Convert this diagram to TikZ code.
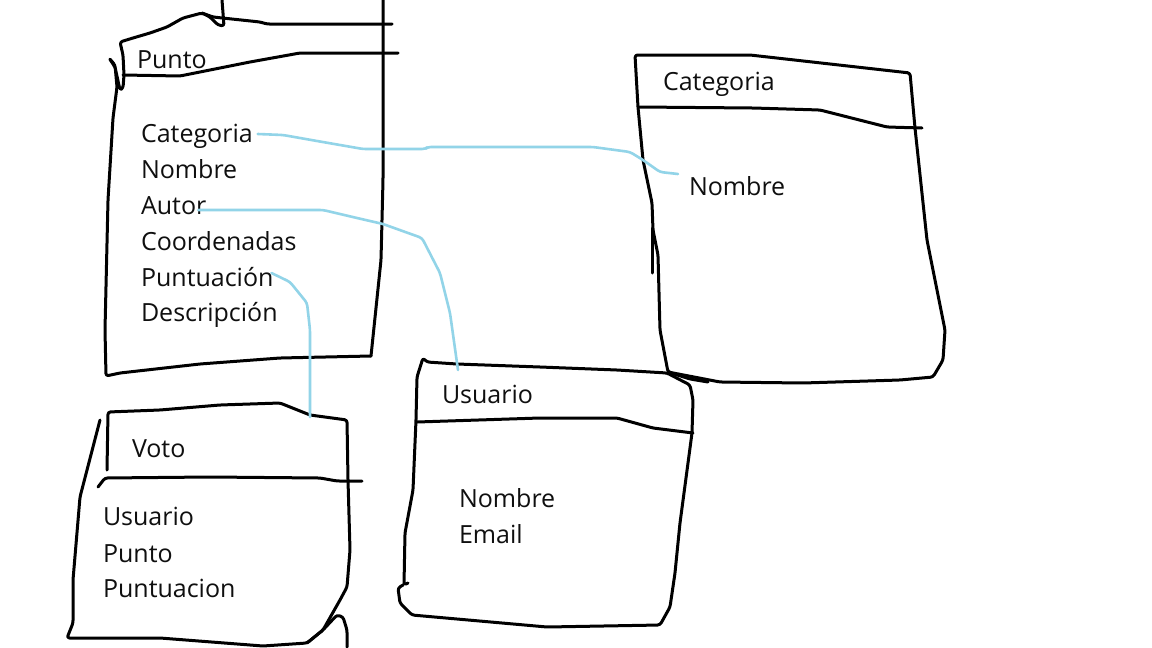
\documentclass[tikz,border=0pt]{standalone}
\usepackage{fontspec}
\setmainfont{Open Sans}
\usetikzlibrary{calc}
\definecolor{link}{RGB}{146,212,232}
\definecolor{txt}{RGB}{15,15,15}
\begin{document}
\begin{tikzpicture}[x=1pt,y=-1pt,
  pen/.style={line width=3pt, line join=round, line cap=round, black, rounded corners=2.5pt},
  wire/.style={line width=2.6pt, line join=round, line cap=round, link, rounded corners=3pt},
  lbl/.style={anchor=base west, inner sep=0pt, outer sep=0pt, text=txt,
              font=\fontsize{25}{30}\selectfont}]
\useasboundingbox[fill=white] (0,0) rectangle (1152,648);

% ---------- Punto ----------
\draw[pen] (383,0) -- (383,180) -- (381,260) -- (371,356);
\draw[pen] (202,13) -- (213,17) -- (260,22) -- (267,24) -- (392,24);
\draw[pen] (222,0) -- (223,13) -- (224,26) -- (218,25) -- (210,17) -- (202,13)
  -- (183,18) -- (167,27) -- (150,33) -- (133,38) -- (120,42) -- (123,55)
  -- (124,75) -- (123,88) -- (120,90) -- (115,67) -- (109,58) -- (115,65)
  -- (117,87) -- (113,118) -- (108,200) -- (105,330) -- (106,376)
  -- (120,373) -- (200,364) -- (280,358) -- (371,356);
\draw[pen] (123,75) -- (180,76) -- (250,62) -- (300,53) -- (398,53);
\node[lbl] (phead) at (137,68) {Punto};
\node[lbl] (pcat)  at (141,142) {Categoria};
\node[lbl] (pnom)  at (141,178) {Nombre};
\node[lbl] (paut)  at (141,214) {Autor};
\node[lbl] (pcoo)  at (141,250) {Coordenadas};
\node[lbl] (ppun)  at (141,286) {Puntuación};
\node[lbl] (pdes)  at (141,321) {Descripción};

% ---------- Categoria ----------
\draw[pen] (638,107) -- (635,55) -- (750,55) -- (910,73) -- (915,128)
  -- (927,240) -- (945,330) -- (943,360) -- (933,377) -- (900,380)
  -- (803,383) -- (720,382) -- (668,372) -- (660,330) -- (658,255)
  -- (653,230) -- (652,203) -- (643,160) -- (638,107);
\draw[pen] (638,107) -- (753,108) -- (820,110) -- (887,127) -- (922,128);
\draw[pen] (652,228) -- (652,273);
\draw[pen] (668,372) -- (690,379) -- (708,382);
\node[lbl] (chead) at (663,90) {Categoria};
\node[lbl] (cnom)  at (689,195) {Nombre};

% ---------- Usuario ----------
\draw[pen] (408,583) -- (404,585) -- (405,533) -- (413,490) -- (416,420)
  -- (417,377) -- (423,358) -- (427,362) -- (457,364) -- (540,367)
  -- (617,370) -- (667,373) -- (690,385) -- (693,400) -- (692,433)
  -- (680,523) -- (675,573) -- (670,607) -- (660,625) -- (547,627)
  -- (412,615) -- (400,603) -- (398,588) -- (403,585);
\draw[pen] (417,422) -- (540,418) -- (617,418) -- (653,428) -- (693,433);
\node[lbl] (uhead) at (442,403) {Usuario};
\node[lbl] (unom)  at (459,507) {Nombre};
\node[lbl] (uema)  at (459,543) {Email};

% ---------- Voto ----------
\draw[pen] (107,470) -- (108,412) -- (160,410) -- (220,405) -- (280,403)
  -- (310,415) -- (347,420) -- (348,480) -- (350,550) -- (347,587)
  -- (340,600) -- (323,630) -- (307,643) -- (263,646) -- (160,638) -- (67,638)
  -- (73,623) -- (73,580) -- (80,497) -- (100,420);
\draw[pen] (98,487) -- (105,478) -- (210,477) -- (320,478) -- (337,481) -- (362,481);
\draw[pen] (307,643) -- (323,630) -- (337,615) -- (343,617) -- (347,630) -- (347,647);
\node[lbl] (vhead) at (132,457) {Voto};
\node[lbl] (vusu)  at (103,525) {Usuario};
\node[lbl] (vpun)  at (103,562) {Punto};
\node[lbl] (vpts)  at (103,597) {Puntuacion};

% ---------- connectors ----------
\coordinate (e1) at ($(cnom.base west)+(-11,-21)$);
\coordinate (e2) at ($(uhead.base west)+(16,-33)$);
\coordinate (e3) at ($(vhead.base west)+(178,-40)$);
\draw[wire] ($(pcat.base east)+(5,-8)$) -- (283,135) -- (317,141) -- (363,149)
  -- (425,149) -- (428,147) -- (593,147) -- (630,152) -- (643,160)
  -- (660,172) -- (e1);
\draw[wire] ($(paut.base east)+(-8,-4)$) -- (323,210) -- (357,218) -- (383,224)
  -- (422,238) -- (440,273) -- (450,313) -- (e2);
\draw[wire] ($(ppun.base east)+(-2,-13)$) -- (290,282) -- (307,303) -- (310,330)
  -- (e3);
\end{tikzpicture}
\end{document}
